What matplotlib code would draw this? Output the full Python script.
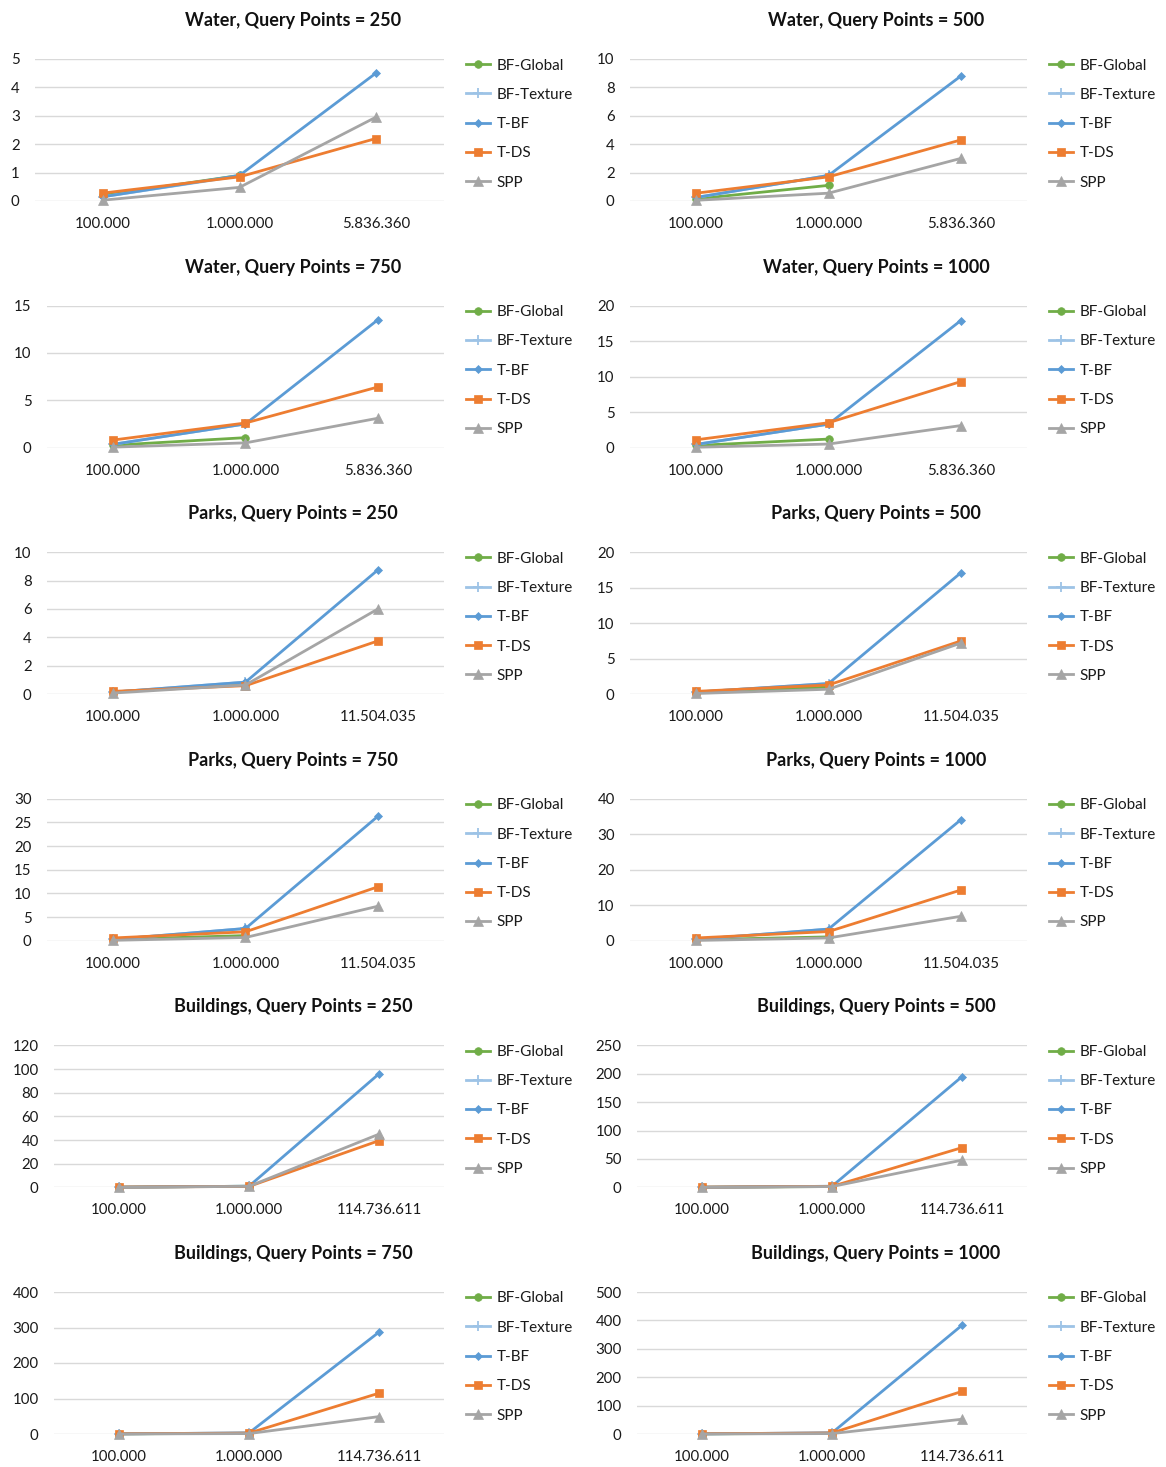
import numpy as np
import matplotlib
matplotlib.use("Agg")
import matplotlib.pyplot as plt

plt.rcParams['font.family'] = ['Lato', 'DejaVu Sans']

# ---- data (seconds) ----
titles = ["Water, Query Points = 250", "Water, Query Points = 500",
          "Water, Query Points = 750", "Water, Query Points = 1000",
          "Parks, Query Points = 250", "Parks, Query Points = 500",
          "Parks, Query Points = 750", "Parks, Query Points = 1000",
          "Buildings, Query Points = 250", "Buildings, Query Points = 500",
          "Buildings, Query Points = 750", "Buildings, Query Points = 1000"]

water_sizes = ["100.000", "1.000.000", "5.836.360"]
parks_sizes = ["100.000", "1.000.000", "11.504.035"]
buildings_sizes = ["100.000", "1.000.000", "114.736.611"]
xlabels = [water_sizes] * 4 + [parks_sizes] * 4 + [buildings_sizes] * 4

series = ["BF-Global", "BF-Texture", "T-BF", "T-DS", "SPP"]

ymax = [5, 10, 15, 20, 10, 20, 30, 40, 120, 250, 400, 500]
ystep = [1, 2, 5, 5, 2, 5, 5, 10, 20, 50, 100, 100]

nan = np.nan
bf_global = [[0.2, 0.9, nan], [0.15, 1.1, nan], [0.25, 1.05, nan], [0.3, 1.2, nan],
             [0.15, 0.7, nan], [0.2, 1.0, nan], [0.3, 1.1, nan], [0.3, 1.1, nan],
             [0.2, 1.0, nan], [0.3, 1.5, nan], [0.4, 2.0, nan], [0.5, 2.5, nan]]
bf_texture = [[0.15, 0.88, nan], [0.25, 1.8, nan], [0.35, 2.5, nan], [0.45, 3.3, nan],
              [0.15, 0.85, nan], [0.3, 1.5, nan], [0.3, 2.6, nan], [0.4, 3.3, nan],
              [0.2, 1.0, nan], [0.3, 2.0, nan], [0.4, 3.0, nan], [0.5, 4.0, nan]]
t_bf = [[0.15, 0.9, 4.5], [0.25, 1.8, 8.8], [0.35, 2.5, 13.5], [0.45, 3.3, 17.9],
        [0.15, 0.85, 8.75], [0.3, 1.5, 17.1], [0.3, 2.6, 26.3], [0.4, 3.3, 34.1],
        [0.2, 1.0, 96], [0.3, 2.0, 195], [0.4, 3.0, 287], [0.5, 4.0, 383]]
t_ds = [[0.28, 0.85, 2.2], [0.55, 1.7, 4.3], [0.8, 2.6, 6.4], [1.1, 3.5, 9.3],
        [0.2, 0.6, 3.75], [0.4, 1.3, 7.5], [0.6, 1.9, 11.4], [0.8, 2.6, 14.3],
        [0.3, 0.8, 39.5], [0.5, 1.8, 70], [0.7, 2.5, 115], [1.0, 3.5, 150]]
spp = [[0.03, 0.48, 2.95], [0.05, 0.55, 3.0], [0.05, 0.5, 3.1], [0.05, 0.5, 3.1],
       [0.08, 0.65, 6.0], [0.1, 0.7, 7.2], [0.1, 0.7, 7.3], [0.1, 0.8, 6.9],
       [0.05, 0.9, 45], [0.1, 1.5, 48], [0.1, 1.2, 49], [0.1, 1.5, 52]]

all_values = [bf_global, bf_texture, t_bf, t_ds, spp]
colors = ["#70AD47", "#9DC3E6", "#5B9BD5", "#ED7D31", "#A5A5A5"]
markers = ["o", "+", "D", "s", "^"]
msizes = [5.5, 7, 4.5, 6, 6.5]

W, H = 1166, 1467
fig = plt.figure(figsize=(W / 100, H / 100), dpi=100)

for i in range(12):
    row, col = i // 2, i % 2
    x0 = col * 583
    ytitle = 19 + 246.6 * row
    top = ytitle + 40
    bottom = ytitle + 182
    digits = len(str(ymax[i]))
    left = x0 + {1: 35, 2: 47, 3: 54}[digits]
    right = x0 + 444
    ax = fig.add_axes([left / W, 1 - bottom / H, (right - left) / W, (bottom - top) / H])

    x = np.arange(3)
    lines = []
    for k in range(5):
        ln, = ax.plot(x, all_values[k][i], color=colors[k], marker=markers[k],
                      ms=msizes[k], lw=2.0, mew=1.3 if markers[k] == "+" else 0.5,
                      mec=colors[k], label=series[k], clip_on=False, zorder=3 + k)
        lines.append(ln)

    ax.set_xlim(-0.5, 2.5)
    ax.set_ylim(0, ymax[i])
    ax.set_yticks(np.arange(0, ymax[i] + ystep[i] / 2, ystep[i]))
    ax.set_xticks(x)
    ax.set_xticklabels(xlabels[i])
    ax.grid(axis="y", color="#D9D9D9", lw=1)
    ax.set_axisbelow(True)
    for s in ax.spines.values():
        s.set_visible(False)
    ax.tick_params(axis="both", length=0, labelsize=10.8, colors="#1a1a1a")
    ax.tick_params(axis="y", pad=11)
    ax.tick_params(axis="x", pad=11.5)

    fig.text((x0 + 293) / W, 1 - (ytitle + 1.5) / H, titles[i], ha="center", va="center",
             fontsize=13, fontweight="bold", color="#111111")

    ax.legend(handles=lines, loc="upper left",
              bbox_to_anchor=((x0 + 466) / W, 1 - (ytitle + 39.5) / H),
              bbox_transform=fig.transFigure, frameon=False, fontsize=11,
              borderpad=0, borderaxespad=0, handlelength=1.55, handletextpad=0.45,
              labelspacing=1.0, labelcolor="#1a1a1a")

fig.savefig("out.png", dpi=100, facecolor="white")
